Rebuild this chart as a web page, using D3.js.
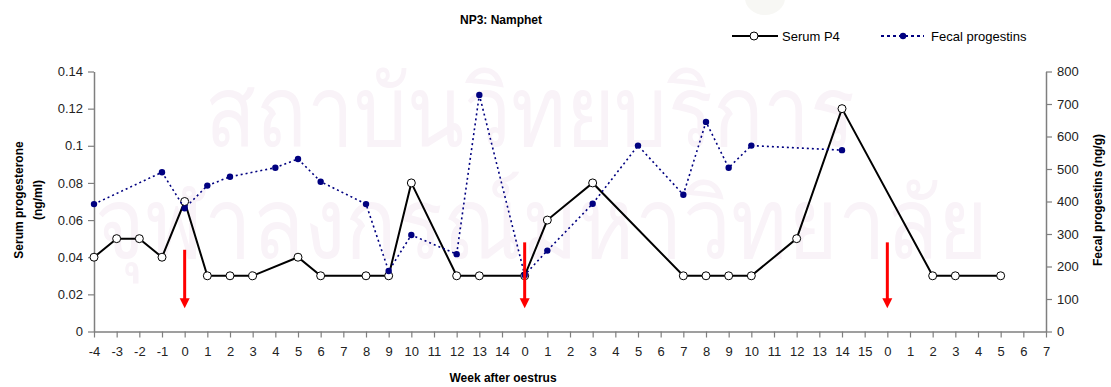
<!DOCTYPE html>
<html>
<head>
<meta charset="utf-8">
<script src="https://cdn.jsdelivr.net/npm/d3@7"></script>
<style>
  body { margin: 0; background: #fff; }
  svg text { font-family: "Liberation Sans", Arial, sans-serif; }
</style>
</head>
<body>
<svg id="chart" width="1111" height="387"></svg>
<script>
// week labels along the x axis (three cycles)
const weekLabels = [-4, -3, -2, -1, 0, 1, 2, 3, 4, 5, 6, 7, 8, 9, 10, 11, 12, 13, 14,
  0, 1, 2, 3, 4, 5, 6, 7, 8, 9, 10, 11, 12, 13, 14, 15,
  0, 1, 2, 3, 4, 5, 6, 7];

// serum P4 (ng/ml), null = no sample
const serumP4 = [0.04, 0.05, 0.05, 0.04, 0.07, 0.03, 0.03, 0.03, null, 0.04, 0.03, null, 0.03, 0.03, 0.08, null, 0.03, 0.03, null,
  0.03, 0.06, null, 0.08, null, null, null, 0.03, 0.03, 0.03, 0.03, null, 0.05, null, 0.12, null,
  null, null, 0.03, 0.03, null, 0.03, null, null];

// fecal progestins (ng/g)
const fecalProg = [392, null, null, 490, 379, 449, 476, null, 504, 531, 461, null, 392, 186, 297, null, 238, 728, null,
  174, 249, null, 393, null, 572, null, 421, 645, 504, 572, null, null, null, 558, null,
  null, null, null, null, null, null, null, null];

// red arrows marking oestrus: x index, top and tip in serum units
const arrowIdx = [4, 19, 35];
const arrowTop = [0.044, 0.048, 0.048];
const arrowTip = [0.0125, 0.0125, 0.0125];

const leftTicks = [0, 0.02, 0.04, 0.06, 0.08, 0.1, 0.12, 0.14];
const rightTicks = [0, 100, 200, 300, 400, 500, 600, 700, 800];

const svg = d3.select("#chart");
const margin = { top: 71.5, right: 65, bottom: 55.5, left: 94 };
const width = 1111, height = 387;
const axisColor = "#7f7f7f";

// faint emblem + watermark, stretched to the reference width
svg.append("ellipse").attr("cx", 765).attr("cy", -2).attr("rx", 20).attr("ry", 17)
  .attr("fill", "#f7f7f4");
const wm = svg.append("g").attr("fill", "#f9f3f8")
  .style("font-family", "'Noto Sans', 'DejaVu Sans', sans-serif");
[["สถาบันวิทยบริการ", 205, 146, 650], ["จุฬาลงกรณ์มหาวิทยาลัย", 95, 258, 890]].forEach(([t, tx, ty, tw]) => {
  const el = wm.append("text").attr("font-size", 98).text(t);
  const w = el.node().getComputedTextLength();
  el.attr("transform", `translate(${tx},${ty}) scale(${tw / w},1)`);
});

const x = d3.scalePoint()
  .domain(d3.range(weekLabels.length))
  .range([margin.left, width - margin.right]);

const yL = d3.scaleLinear().domain([0, 0.14]).range([height - margin.bottom, margin.top]);
const yR = d3.scaleLinear().domain([0, 800]).range([height - margin.bottom, margin.top]);

function styleAxis(g) {
  g.select(".domain").attr("stroke", axisColor).attr("stroke-width", 1.5);
  g.selectAll(".tick line").attr("stroke", axisColor).attr("stroke-width", 1.2);
  g.selectAll(".tick text").attr("fill", "#222").attr("font-size", 13)
    .style("font-family", "'Liberation Sans', Arial, sans-serif");
}

svg.append("g")
  .attr("transform", `translate(0,${height - margin.bottom})`)
  .call(d3.axisBottom(x).tickSize(6).tickSizeOuter(0).tickPadding(9).tickFormat(i => weekLabels[i]))
  .call(styleAxis);

svg.append("g")
  .attr("transform", `translate(${margin.left},0)`)
  .call(d3.axisLeft(yL).tickValues(leftTicks).tickSize(6).tickSizeOuter(0).tickPadding(5).tickFormat(d3.format("")))
  .call(styleAxis);

svg.append("g")
  .attr("transform", `translate(${width - margin.right},0)`)
  .call(d3.axisRight(yR).tickValues(rightTicks).tickSize(6).tickSizeOuter(0).tickPadding(5))
  .call(styleAxis);

// serum P4 line + open circles
const serumPts = serumP4.map((v, i) => ({ i, v })).filter(d => d.v != null);
svg.append("path")
  .datum(serumPts)
  .attr("fill", "none").attr("stroke", "#000").attr("stroke-width", 2)
  .attr("d", d3.line().x(d => x(d.i)).y(d => yL(d.v)));

svg.append("g").selectAll("circle").data(serumPts).join("circle")
  .attr("cx", d => x(d.i)).attr("cy", d => yL(d.v)).attr("r", 4)
  .attr("fill", "#fff").attr("stroke", "#000").attr("stroke-width", 1);

// fecal progestins dotted line + dots
const fecalPts = fecalProg.map((v, i) => ({ i, v })).filter(d => d.v != null);
svg.append("path")
  .datum(fecalPts)
  .attr("fill", "none").attr("stroke", "#000080").attr("stroke-width", 1.6)
  .attr("stroke-dasharray", "2,3")
  .attr("d", d3.line().x(d => x(d.i)).y(d => yR(d.v)));

svg.append("g").selectAll("circle").data(fecalPts).join("circle")
  .attr("cx", d => x(d.i)).attr("cy", d => yR(d.v)).attr("r", 3.2)
  .attr("fill", "#000080");

// arrows
arrowIdx.forEach((idx, k) => {
  const ax = x(idx), y0 = yL(arrowTop[k]), y1 = yL(arrowTip[k]);
  svg.append("line")
    .attr("x1", ax).attr("x2", ax).attr("y1", y0).attr("y2", y1 - 9)
    .attr("stroke", "#ff0000").attr("stroke-width", 3);
  svg.append("path")
    .attr("d", `M${ax - 5},${y1 - 10}L${ax + 5},${y1 - 10}L${ax},${y1}Z`)
    .attr("fill", "#ff0000");
});

// title
svg.append("text").attr("x", 501).attr("y", 24).attr("text-anchor", "middle")
  .attr("font-size", 12).attr("font-weight", "bold").text("NP3: Namphet");

// legend
const lg = svg.append("g").attr("font-size", 13);
lg.append("line").attr("x1", 732).attr("x2", 778).attr("y1", 36).attr("y2", 36)
  .attr("stroke", "#000").attr("stroke-width", 2);
lg.append("circle").attr("cx", 754).attr("cy", 36).attr("r", 4)
  .attr("fill", "#fff").attr("stroke", "#000");
lg.append("text").attr("x", 782).attr("y", 41).text("Serum P4");
lg.append("line").attr("x1", 881).attr("x2", 924).attr("y1", 36).attr("y2", 36)
  .attr("stroke", "#000080").attr("stroke-width", 2).attr("stroke-dasharray", "3,3");
lg.append("circle").attr("cx", 903).attr("cy", 36).attr("r", 3.2).attr("fill", "#000080");
lg.append("text").attr("x", 931).attr("y", 41).text("Fecal progestins");

// axis titles
svg.append("text")
  .attr("transform", "translate(23,200) rotate(-90)")
  .attr("text-anchor", "middle").attr("font-size", 12).attr("font-weight", "bold")
  .text("Serum progesterone");
svg.append("text")
  .attr("transform", "translate(42,200) rotate(-90)")
  .attr("text-anchor", "middle").attr("font-size", 12).attr("font-weight", "bold")
  .text("(ng/ml)");
svg.append("text")
  .attr("transform", "translate(1102,200) rotate(-90)")
  .attr("text-anchor", "middle").attr("font-size", 12).attr("font-weight", "bold")
  .text("Fecal progestins (ng/g)");
svg.append("text").attr("x", 503).attr("y", 382).attr("text-anchor", "middle")
  .attr("font-size", 12).attr("font-weight", "bold").text("Week after oestrus");
</script>
</body>
</html>
